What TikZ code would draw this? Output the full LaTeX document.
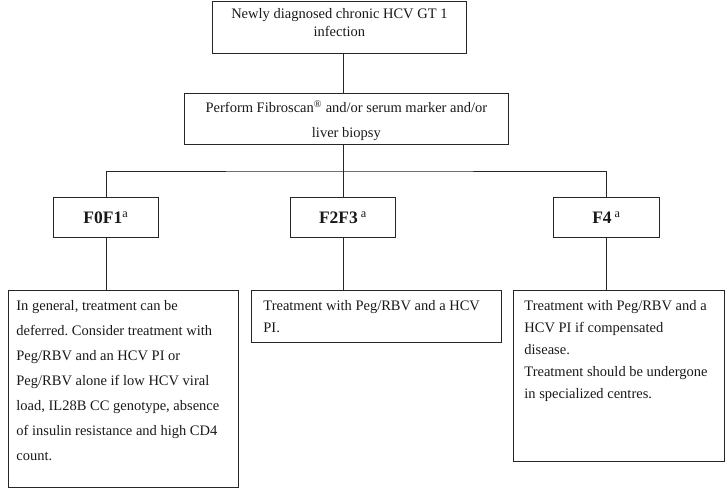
\documentclass[tikz,border=0pt]{standalone}
\usepackage{fontspec}
\setmainfont{Liberation Serif}
\frenchspacing

\begin{document}
\begin{tikzpicture}[x=1pt, y=-1pt, line width=0.8pt,
  box/.style={draw=black!85, anchor=north west, inner ysep=0pt, text=black!90},
  grade/.style={draw=black!85, anchor=north west, inner sep=0pt, minimum height=40pt,
    text=black!90, font=\fontsize{17.5}{20}\selectfont\bfseries},
  link/.style={draw=black!85}]

\useasboundingbox (0,0) rectangle (725,488);

\path [every node/.style={font=\fontsize{14.5}{18}\selectfont}]
  node[box, inner xsep=0pt] (newly) at (212,1)
    {\parbox[c][52pt][t]{254pt}{\centering\vspace*{7pt}Newly diagnosed chronic HCV GT 1\\ infection}}
  node[box, inner xsep=0pt] (perform) at (184,93)
    {\parbox[c][51pt][t]{324pt}{\fontsize{14.5}{25}\selectfont\centering\vspace*{7pt}Perform Fibroscan\textsuperscript{\textregistered} and/or serum marker and/or\\ liver biopsy}}
  % stades de fibrose
  node[grade, minimum width=105pt] (f0f1) at (53,197) {F0F1\textsuperscript{\mdseries a}}
  node[grade, minimum width=105pt] (f2f3) at (290,197) {F2F3\,\textsuperscript{\mdseries a}}
  node[grade, minimum width=106pt] (f4) at (553,197) {F4\,\textsuperscript{\mdseries a}}
  % conduites
  node[box, inner xsep=8pt] (defer) at (8,290)
    {\parbox[c][197pt][t]{214pt}{\fontsize{14.5}{25}\selectfont\raggedright\vspace*{10pt}In general, treatment can be\\ deferred. Consider treatment with\\ Peg/RBV and an HCV PI or\\ Peg/RBV alone if low HCV viral\\ load, IL28B CC genotype, absence\\ of insulin resistance and high CD4\\ count.}}
  node[box, inner xsep=12pt] (treat) at (251,290)
    {\parbox[c][52pt][t]{226pt}{\fontsize{14.5}{22}\selectfont\raggedright\vspace*{10pt}Treatment with Peg/RBV and a HCV\\ PI.}}
  node[box, inner xsep=11pt] (centre) at (513,290)
    {\parbox[c][171pt][t]{189pt}{\fontsize{14.5}{22}\selectfont\raggedright\vspace*{10pt}Treatment with Peg/RBV and a\\ HCV PI if compensated\\ disease.\\ Treatment should be undergone\\ in specialized centres.}};

\coordinate (split) at (343,171);

\begin{scope}[link]
	% Tronc
	\draw (f2f3 |- newly.south) -- (f2f3 |- perform.north);
	\draw (f2f3 |- perform.south) -- (f2f3.north);
	% Branches
	\draw (f0f1.north) |- (split) -| (f4.north);
	% Sorties
	\draw (f0f1.south) -- (f0f1.south |- defer.north);
	\draw (f2f3.south) -- (f2f3.south |- treat.north);
	\draw (f4.south) -- (f4.south |- centre.north);
\end{scope}

\end{tikzpicture}
\end{document}
